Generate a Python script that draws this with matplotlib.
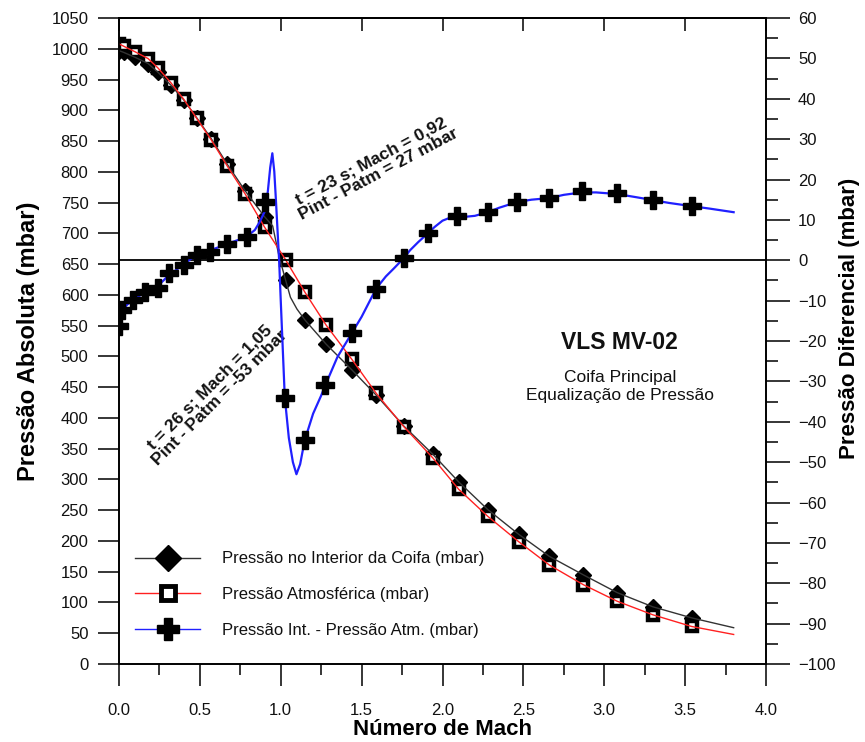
import numpy as np
import matplotlib
matplotlib.use("Agg")
import matplotlib.pyplot as plt
from matplotlib.lines import Line2D
from matplotlib.ticker import MultipleLocator, FormatStrFormatter

plt.rcParams['font.family'] = ['Liberation Sans', 'DejaVu Sans']

# ---------------- data ----------------
# marker positions (Mach number)
mach_mk = [0.00, 0.03, 0.10, 0.18, 0.24, 0.32, 0.40, 0.48, 0.57, 0.67, 0.78, 0.90,
           1.03, 1.15, 1.28, 1.44, 1.59, 1.76, 1.94, 2.10, 2.28, 2.47, 2.66, 2.87,
           3.08, 3.30, 3.54]
p_atm_mk = [1008, 1004, 995, 984, 969, 945, 918, 887, 852, 809, 764, 710,
            657, 604, 551, 495, 440, 386, 335, 284, 240, 199, 161, 129,
            102, 80, 61]
p_int_mk = [997, 994, 986, 976, 962, 941, 917, 888, 854, 812, 769, 727,
            624, 559, 520, 478, 437, 387, 341, 296, 251, 211, 175, 145,
            116, 93, 75]

# continuous lines
mach_atm_line = [0.00, 0.03, 0.10, 0.18, 0.24, 0.32, 0.40, 0.48, 0.57, 0.67, 0.78, 0.90,
                 1.03, 1.15, 1.28, 1.44, 1.59, 1.76, 1.94, 2.10, 2.28, 2.47, 2.66, 2.87,
                 3.08, 3.30, 3.54, 3.80]
p_atm_line = [1008, 1004, 995, 984, 969, 945, 918, 887, 852, 809, 764, 710,
              657, 604, 551, 495, 440, 386, 335, 284, 240, 199, 161, 129,
              102, 80, 61, 48]
mach_int_line = [0.00, 0.03, 0.10, 0.18, 0.24, 0.32, 0.40, 0.48, 0.57, 0.67, 0.78, 0.90,
                 0.95, 0.99, 1.03, 1.06, 1.10, 1.15, 1.28, 1.44, 1.59, 1.76, 1.94, 2.10,
                 2.28, 2.47, 2.66, 2.87, 3.08, 3.30, 3.54, 3.80]
p_int_line = [997, 994, 986, 976, 962, 941, 917, 888, 854, 812, 769, 727,
              712, 662, 624, 596, 577, 559, 520, 478, 437, 387, 341, 296,
              251, 211, 175, 145, 116, 93, 75, 59]

# differential pressure (right axis)
mach_dp_mk = [0.00, 0.02, 0.085, 0.16, 0.24, 0.31, 0.40, 0.48, 0.56, 0.67, 0.79, 0.90,
              1.025, 1.148, 1.275, 1.44, 1.59, 1.76, 1.91, 2.09, 2.28, 2.46, 2.66,
              2.86, 3.08, 3.30, 3.54]
dp_mk = [-16.2, -12.4, -9.9, -7.9, -6.9, -3.2, -1.2, 1.2, 2.0, 4.0, 5.7, 14.4,
         -34, -44.6, -31, -18, -7, 0.5, 6.7, 10.9, 11.9, 14.4, 15.4,
         17.1, 16.6, 14.9, 13.4]
mach_dp_line = [0.00, 0.02, 0.05, 0.10, 0.15, 0.20, 0.25, 0.30, 0.35, 0.40, 0.45, 0.50,
                0.55, 0.60, 0.65, 0.70, 0.75, 0.80, 0.84, 0.87, 0.90, 0.92, 0.935, 0.948,
                0.96, 0.97, 0.99, 1.00, 1.025, 1.05, 1.075, 1.097, 1.12, 1.148, 1.20,
                1.25, 1.275, 1.35, 1.44, 1.50, 1.59, 1.65, 1.70, 1.76, 1.80, 1.85, 1.91,
                1.95, 2.00, 2.05, 2.09, 2.15, 2.20, 2.28, 2.35, 2.46, 2.55, 2.66, 2.75,
                2.86, 2.95, 3.08, 3.20, 3.30, 3.40, 3.54, 3.65, 3.80]
dp_line = [-15.5, -12.5, -11, -9.5, -8.2, -7.2, -6, -4, -2.5, -1, 0.5, 1.5,
           2.3, 3, 3.7, 4.5, 5.2, 6.2, 7.5, 9.5, 12, 17, 23, 26.5,
           22, 15, 0, -10, -34, -44, -50, -53, -50.5, -44.6, -38,
           -33.5, -31, -24, -18, -14, -7, -4, -2, 0.5, 2.5, 4.5, 6.7,
           8.2, 9.8, 10.6, 10.9, 10.8, 11, 11.9, 13, 14.4, 15, 15.4, 16.2,
           16.8, 16.8, 16.4, 15.6, 14.9, 14.2, 13.4, 12.8, 11.9]

labels = ["Pressão no Interior da Coifa (mbar)",
          "Pressão Atmosférica (mbar)",
          "Pressão Int. - Pressão Atm. (mbar)"]

# ---------------- figure ----------------
W, H = 865, 742
fig = plt.figure(figsize=(W / 100, H / 100), dpi=100)
ax = fig.add_axes([119 / W, 1 - 664 / H, (766 - 119) / W, (664 - 18) / H])
ax2 = ax.twinx()

tc = '#111111'
# left axis series
ax.plot(mach_mk, p_int_mk, linestyle='none', marker='D', ms=8.5, color='black',
        zorder=2)
ax.plot(mach_mk, p_atm_mk, linestyle='none', marker='s', ms=7, mfc='white',
        mec='black', mew=3.2, zorder=3)
ax.plot(mach_int_line, p_int_line, color='#333333', lw=1.0, zorder=4)
ax.plot(mach_atm_line, p_atm_line, color='#ff2020', lw=1.0, zorder=4)

# right axis series
ax2.axhline(0, color='black', lw=1.3, zorder=1)
ax2.plot(mach_dp_line, dp_line, color='#2020ff', lw=1.6, zorder=3)
ax2.plot(mach_dp_mk, dp_mk, linestyle='none', marker='P', ms=13, color='black',
         mec='black', zorder=4)

# limits & ticks
ax.set_xlim(0, 4)
ax.set_ylim(0, 1050)
ax2.set_ylim(-100, 60)

ax.xaxis.set_major_locator(MultipleLocator(0.5))
ax.xaxis.set_minor_locator(MultipleLocator(0.25))
ax.xaxis.set_major_formatter(FormatStrFormatter('%.1f'))
ax.yaxis.set_major_locator(MultipleLocator(50))
ax2.yaxis.set_major_locator(MultipleLocator(10))
ax2.yaxis.set_minor_locator(MultipleLocator(5))

ax.tick_params(axis='x', which='major', direction='out', length=16, width=1.1,
               pad=12, labelsize=12, labelcolor=tc, top=False)
ax.tick_params(axis='x', which='minor', direction='out', length=8, width=1.1, top=False)
ax.tick_params(axis='y', which='major', direction='out', length=15, width=1.1,
               pad=7, labelsize=12, labelcolor=tc, right=False)
ax2.tick_params(axis='y', which='major', direction='out', length=17, width=1.1,
                pad=6, labelsize=12, labelcolor=tc)
ax2.tick_params(axis='y', which='minor', direction='out', length=8.5, width=1.1)

sec = ax.secondary_xaxis('top')
sec.xaxis.set_major_locator(MultipleLocator(0.5))
sec.tick_params(direction='in', length=9, width=1.1, labeltop=False)

for a in (ax, ax2):
    for s in a.spines.values():
        s.set_linewidth(1.2)
for s in sec.spines.values():
    s.set_linewidth(1.2)

ax.set_xlabel('Número de Mach', fontsize=16, fontweight='bold', labelpad=1)
ax.set_ylabel('Pressão Absoluta (mbar)', fontsize=17, fontweight='bold', labelpad=8)
ax2.set_ylabel('Pressão Diferencial (mbar)', fontsize=16, fontweight='bold')
ax2.yaxis.set_label_coords(1.113, 0.535)

# annotations
ax.text(0.395, 0.768, 't = 23 s; Mach = 0,92\nPint - Patm = 27 mbar',
        transform=ax.transAxes, rotation=28, rotation_mode='anchor',
        ha='center', va='center', fontsize=12.5, fontweight='bold',
        linespacing=1.0, color='#111111')
ax.text(0.148, 0.42, 't = 26 s; Mach = 1,05\nPint - Patm = -53 mbar',
        transform=ax.transAxes, rotation=45, rotation_mode='anchor',
        ha='center', va='center', fontsize=12.5, fontweight='bold',
        linespacing=1.0, color='#111111')

ax.text(0.774, 0.497, 'VLS MV-02', transform=ax.transAxes, ha='center',
        va='center', fontsize=16.5, fontweight='bold', color='#111111')
ax.text(0.774, 0.43, 'Coifa Principal\nEqualização de Pressão',
        transform=ax.transAxes, ha='center', va='center', fontsize=12.5,
        linespacing=1.25, color='#111111')

# legend
handles = [
    Line2D([], [], color='#333333', lw=1.0, marker='D', ms=13, mfc='black', mec='black'),
    Line2D([], [], color='#ff2020', lw=1.0, marker='s', ms=10, mfc='white', mec='black', mew=3.5),
    Line2D([], [], color='#2020ff', lw=1.0, marker='P', ms=16, mfc='black', mec='black'),
]
leg = ax.legend(handles, labels, loc='lower left', bbox_to_anchor=(0.025, 0.04),
                frameon=False, fontsize=12, handlelength=3.9, handletextpad=1.3,
                labelspacing=1.25, borderpad=0, borderaxespad=0)
for t in leg.get_texts():
    t.set_color('#111111')

fig.savefig('out.png', dpi=100)
